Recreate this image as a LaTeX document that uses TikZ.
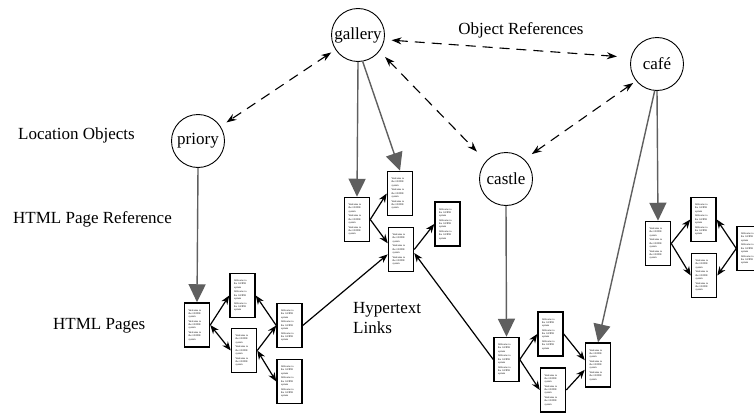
\documentclass[tikz,border=0pt]{standalone}
\usepackage{fontspec}
\setmainfont{Liberation Serif}
\usetikzlibrary{arrows.meta}
\definecolor{refgray}{RGB}{95,95,95}
\newcommand{\pgtxt}{Welcome to\\the GUIDE\\system\\[1.6pt]Welcome to\\the GUIDE\\system\\[1.6pt]Welcome to\\the GUIDE\\system}
\begin{document}
\begin{tikzpicture}[x=1pt,y=-1pt,
  loc/.style={circle,draw,line width=0.9pt,minimum size=53pt,inner sep=0pt,font=\fontsize{17}{20}\selectfont},
  lab/.style={inner sep=0pt,font=\fontsize{17}{20}\selectfont},
  pg/.style={draw,line width=1.5pt,fill=white,minimum width=25pt,minimum height=44pt,inner sep=0pt,
    align=left,text width=17pt,font=\fontsize{2.6}{3.2}\selectfont},
  link/.style={line width=1.2pt,-{Stealth[length=9pt,width=7pt]}},
  dlink/.style={line width=1.2pt,{Stealth[length=9pt,width=7pt]}-{Stealth[length=9pt,width=7pt]}},
  gref/.style={draw=refgray,line width=1.4pt,-{Triangle[length=18pt,width=17pt]},color=refgray},
  oref/.style={line width=1.1pt,dash pattern=on 10pt off 7pt,{Stealth[length=10pt,width=7pt]}-{Stealth[length=10pt,width=7pt]}}]
\useasboundingbox (0,0) rectangle (754,412);
% location objects
\node[loc] (gallery) at (358,35) {gallery};
\node[loc] (priory) at (198,141) {priory};
\node[loc] (castle) at (506,179) {castle};
\node[loc] (cafe) at (657,64) {café};
% labels
\node[lab,anchor=west] (lLoc) at (18,135) {Location Objects};
\node[lab,anchor=west] (lRef) at (13,219) {HTML Page Reference};
\node[lab,anchor=west] (lPages) at (53,326) {HTML Pages};
\node[lab] (lObj) at (521,30) {Object References};
\node[lab,anchor=base west] (lHyp) at (353,313) {Hypertext};
\node[lab,anchor=base west] (lLinks) at (353,333) {Links};
% priory pages
\node[pg] (A) at (197,325) {\pgtxt};
\node[pg] (B) at (242.5,295.5) {\pgtxt};
\node[pg] (C) at (244,350.5) {\pgtxt};
\node[pg] (D) at (289.5,325.5) {\pgtxt};
\node[pg] (E) at (289.5,381.5) {\pgtxt};
% gallery pages
\node[pg] (G1) at (357,219.5) {\pgtxt};
\node[pg] (G2) at (400,193.5) {\pgtxt};
\node[pg] (G3) at (401,249.5) {\pgtxt};
\node[pg] (G4) at (447.5,224) {\pgtxt};
% castle pages
\node[pg] (K1) at (506.5,359.5) {\pgtxt};
\node[pg] (K2) at (550.5,334) {\pgtxt};
\node[pg] (K3) at (553,390) {\pgtxt};
\node[pg] (K4) at (598,365) {\pgtxt};
% cafe pages
\node[pg] (C1) at (658,243.5) {\pgtxt};
\node[pg] (C2) at (703.5,219.5) {\pgtxt};
\node[pg] (C3) at (704,275.5) {\pgtxt};
\node[pg] (C4) at (749.5,248.5) {\pgtxt};
% page references
\draw[gref] (gallery.south) -- (G1.north);
\draw[gref] (gallery.-80) -- (G2.north);
\draw[gref] (priory.south) -- (A.north);
\draw[gref] (castle.south) -- (K1.north);
\draw[gref] (cafe.south) -- (C1.north);
\draw[gref] (cafe.-95) -- (K4.north);
% hypertext links
\draw[link] (A.east) -- (B.west);
\draw[dlink] (A.east) -- (C.west);
\draw[link] (C.east) -- (D.west);
\draw[link] (D.west) -- (B.east);
\draw[dlink] (C.east) -- (E.west);
\draw[link] (D.east) -- (G3.200);
\draw[link] (G1.east) -- (G2.west);
\draw[link] (G1.east) -- (G3.155);
\draw[link] (G3.east) -- (G4.west);
\draw[link] (K1.west) -- (G3.-15);
\draw[link] (K1.east) -- (K2.west);
\draw[link] (K1.east) -- (K3.west);
\draw[link] (K2.east) -- (K4.160);
\draw[link] (K3.east) -- (K4.200);
\draw[link] (C1.east) -- (C2.west);
\draw[link] (C1.east) -- (C3.west);
\draw[link] (C4.west) -- (C2.east);
\draw[link] (C4.west) -- (C3.east);
% object references
\draw[oref,shorten <=5pt,shorten >=7pt] (gallery.213.5) -- (priory.33.5);
\draw[oref,shorten <=7pt,shorten >=14pt] (gallery.-10) -- (cafe.166);
\draw[oref,shorten <=8pt,shorten >=13pt] (gallery.-37) -- (castle.138);
\draw[oref,shorten <=9pt,shorten >=3.5pt] (castle.47) -- (cafe.219);
\end{tikzpicture}
\end{document}
